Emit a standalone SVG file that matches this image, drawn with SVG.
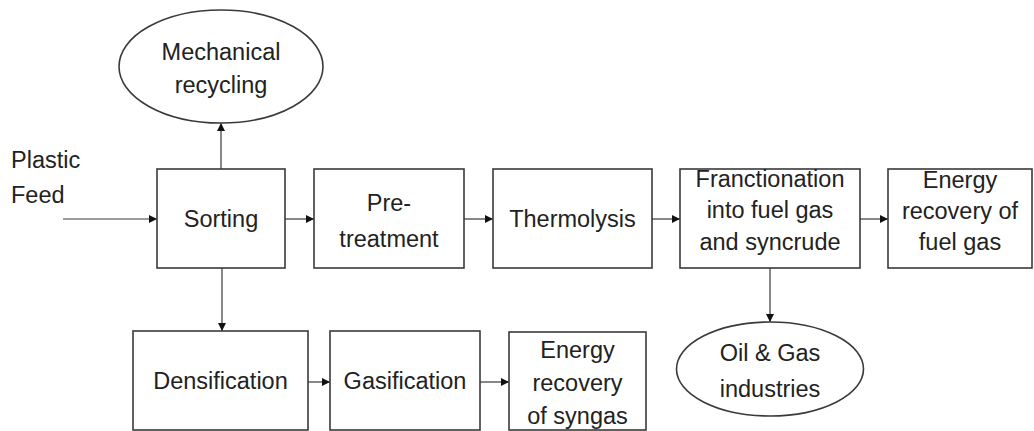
<svg xmlns="http://www.w3.org/2000/svg" width="1034" height="431" viewBox="0 0 1034 431">
<style>
.box{fill:#fff;stroke:#3a3a3a;stroke-width:1.6}
.t{font-family:"Liberation Sans",Arial,sans-serif;font-size:23.5px;fill:#222;text-anchor:middle}
.s{text-anchor:start}
.c{fill:none;stroke:#3a3a3a;stroke-width:1.2}
</style>
<defs>
<marker id="ah" viewBox="0 0 10 10" refX="10" refY="5" markerWidth="8" markerHeight="8" markerUnits="userSpaceOnUse" orient="auto">
<path d="M0,0 L10,5 L0,10 z" fill="#111"/>
</marker>
</defs>
<rect width="1034" height="431" fill="#fff"/>
<g id="connectors">
<line class="c" x1="63" y1="219" x2="157" y2="219" marker-end="url(#ah)"/>
<line class="c" x1="221" y1="169" x2="221" y2="123" marker-end="url(#ah)"/>
<line class="c" x1="285" y1="219" x2="314" y2="219" marker-end="url(#ah)"/>
<line class="c" x1="464" y1="219" x2="493" y2="219" marker-end="url(#ah)"/>
<line class="c" x1="652" y1="219" x2="680" y2="219" marker-end="url(#ah)"/>
<line class="c" x1="860" y1="219" x2="888" y2="219" marker-end="url(#ah)"/>
<line class="c" x1="222" y1="268" x2="222" y2="331" marker-end="url(#ah)"/>
<line class="c" x1="770" y1="268" x2="770" y2="322" marker-end="url(#ah)"/>
<line class="c" x1="308" y1="382" x2="330" y2="382" marker-end="url(#ah)"/>
<line class="c" x1="480" y1="382" x2="509" y2="382" marker-end="url(#ah)"/>
</g>
<g id="plastic-feed">
<text class="t s" x="11" y="168">Plastic</text>
<text class="t s" x="11" y="203">Feed</text>
</g>
<g id="mechanical-recycling">
<ellipse class="box" cx="221" cy="66.5" rx="102" ry="56.5"/>
<text class="t" x="221" y="60">Mechanical</text>
<text class="t" x="221" y="93">recycling</text>
</g>
<g id="sorting">
<rect class="box" x="157" y="169" width="128" height="99"/>
<text class="t" x="221" y="227">Sorting</text>
</g>
<g id="pretreatment">
<rect class="box" x="314" y="169" width="150" height="99"/>
<text class="t" x="389" y="211">Pre-</text>
<text class="t" x="389" y="247">treatment</text>
</g>
<g id="thermolysis">
<rect class="box" x="493" y="169" width="159" height="99"/>
<text class="t" x="572.5" y="227">Thermolysis</text>
</g>
<g id="fractionation">
<rect class="box" x="680" y="169" width="180" height="99"/>
<text class="t" x="770" y="187">Franctionation</text>
<text class="t" x="770" y="218">into fuel gas</text>
<text class="t" x="770" y="250">and syncrude</text>
</g>
<g id="energy-fuel-gas">
<rect class="box" x="888" y="169" width="144" height="99"/>
<text class="t" x="960" y="188">Energy</text>
<text class="t" x="960" y="219">recovery of</text>
<text class="t" x="960" y="250">fuel gas</text>
</g>
<g id="densification">
<rect class="box" x="133" y="331" width="175" height="99"/>
<text class="t" x="220.5" y="389">Densification</text>
</g>
<g id="gasification">
<rect class="box" x="330" y="331" width="150" height="99"/>
<text class="t" x="405" y="389">Gasification</text>
</g>
<g id="energy-syngas">
<rect class="box" x="509" y="332" width="137" height="98"/>
<text class="t" x="577.5" y="358">Energy</text>
<text class="t" x="577.5" y="391">recovery</text>
<text class="t" x="577.5" y="424">of syngas</text>
</g>
<g id="oil-gas">
<ellipse class="box" cx="770" cy="369" rx="93.5" ry="47"/>
<text class="t" x="770" y="361">Oil &amp; Gas</text>
<text class="t" x="770" y="397">industries</text>
</g>
</svg>
